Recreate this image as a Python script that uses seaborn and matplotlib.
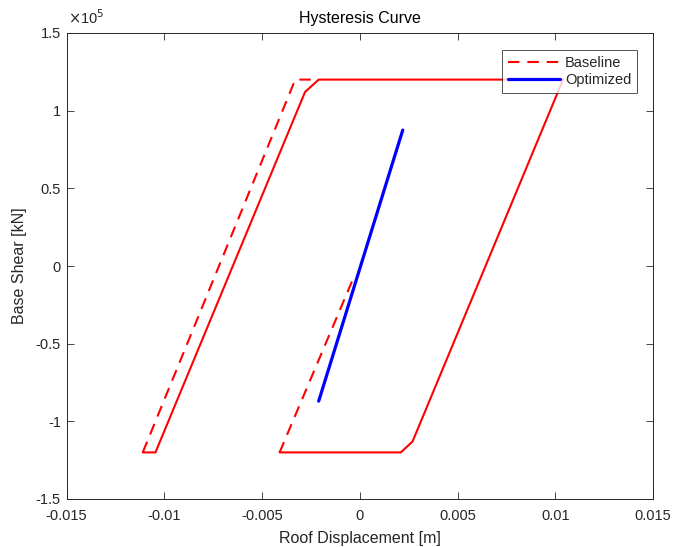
import matplotlib
matplotlib.use("Agg")
import matplotlib.pyplot as plt
import seaborn as sns
import numpy as np
import pandas as pd
from matplotlib.ticker import FuncFormatter, FixedLocator

# ---- data ----
# Baseline path pieces: first and last pieces are sparse (drawn dashed), middle is dense (looks solid)
base_dash1_x = [-0.0004, -0.0041]
base_dash1_y = [-0.10e5, -1.20e5]
base_solid_x = [-0.0041, 0.0021, 0.0027, 0.0104, -0.0021, -0.0028, -0.01045, -0.0111]
base_solid_y = [-1.20e5, -1.20e5, -1.13e5, 1.20e5, 1.20e5, 1.12e5, -1.20e5, -1.20e5]
base_dash2_x = [-0.0111, -0.0033, -0.0025]
base_dash2_y = [-1.20e5, 1.20e5, 1.20e5]

opt_x = [-0.0021, 0.0022]
opt_y = [-0.87e5, 0.875e5]

x_ticks = [-0.015, -0.01, -0.005, 0, 0.005, 0.01, 0.015]
y_ticks = [-1.5e5, -1e5, -0.5e5, 0, 0.5e5, 1e5, 1.5e5]

sns.set_style("white")
plt.rcParams['font.family'] = ['Liberation Sans', 'DejaVu Sans']
plt.rcParams['axes.unicode_minus'] = False

W, H = 673, 547
fig = plt.figure(figsize=(W / 100, H / 100), dpi=100)
ax = fig.add_axes([66.5 / W, 1 - 499 / H, (653 - 66.5) / W, (499 - 33) / H])

red = (1, 0, 0)
blue = (0, 0, 1)
dash = (0, (5.5, 3.8))

d1 = pd.DataFrame({"x": base_dash1_x, "y": base_dash1_y})
s1 = pd.DataFrame({"x": base_solid_x, "y": base_solid_y})
d2 = pd.DataFrame({"x": base_dash2_x, "y": base_dash2_y})
op = pd.DataFrame({"x": opt_x, "y": opt_y})

sns.lineplot(data=d1, x="x", y="y", sort=False, estimator=None, ax=ax,
             color=red, lw=1.5, linestyle=dash, label="Baseline")
sns.lineplot(data=s1, x="x", y="y", sort=False, estimator=None, ax=ax,
             color=red, lw=1.5, linestyle="-", label="_nolegend_")
sns.lineplot(data=d2, x="x", y="y", sort=False, estimator=None, ax=ax,
             color=red, lw=1.5, linestyle=dash, label="_nolegend_")
sns.lineplot(data=op, x="x", y="y", sort=False, estimator=None, ax=ax,
             color=blue, lw=2.3, linestyle="-", label="Optimized")

ax.set_xlim(-0.015, 0.015)
ax.set_ylim(-1.5e5, 1.5e5)
ax.xaxis.set_major_locator(FixedLocator(x_ticks))
ax.yaxis.set_major_locator(FixedLocator(y_ticks))
ax.xaxis.set_major_formatter(FuncFormatter(lambda v, p: "%g" % round(v, 6)))
ax.yaxis.set_major_formatter(FuncFormatter(lambda v, p: "%g" % round(v / 1e5, 6)))

tc = (0.15, 0.15, 0.15)
ax.tick_params(direction="in", length=5, width=0.6, colors=tc, labelsize=10.5,
               top=True, right=True, bottom=True, left=True, labelcolor=tc)
ax.tick_params(axis="x", pad=7)
ax.tick_params(axis="y", pad=4)
for s in ax.spines.values():
    s.set_color(tc)
    s.set_linewidth(0.7)

ax.set_xlabel("Roof Displacement [m]", fontsize=11.5, color=tc, labelpad=6)
ax.set_ylabel("Base Shear [kN]", fontsize=11.5, color=tc, labelpad=6)
ax.set_title("Hysteresis Curve", fontsize=11.5, color=(0, 0, 0), pad=7)

fig.text(68 / W, 1 - 18 / H, r"$\times$10$^{5}$", fontsize=10.5, color=tc,
         ha="left", va="center")

leg = ax.legend(loc="upper right", bbox_to_anchor=(637 / W, 1 - 50 / H),
                bbox_transform=fig.transFigure, borderaxespad=0, frameon=True,
                fancybox=False, fontsize=10.5, handlelength=3.6, handletextpad=0.3,
                borderpad=0.4, labelspacing=0.25)
leg.get_frame().set_edgecolor(tc)
leg.get_frame().set_linewidth(0.7)

fig.savefig("out.png", dpi=100, facecolor="white")
